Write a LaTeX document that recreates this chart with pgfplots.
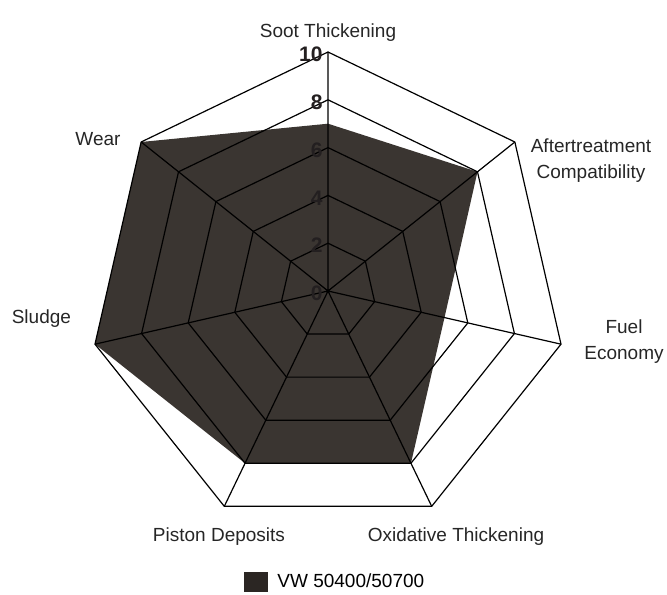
\documentclass[border=0pt]{standalone}
\usepackage{fontspec}
\setmainfont{Liberation Sans}
\usepackage{pgfplots}
\pgfplotsset{compat=1.18}
\usepgfplotslibrary{polar}

\definecolor{vwfill}{HTML}{3A3531}
\definecolor{vwleg}{HTML}{2B2623}
\definecolor{ticktext}{HTML}{231F20}

\begin{document}
\begin{tikzpicture}
\begin{polaraxis}[
  scale only axis,
  width=239pt, height=239pt,
  xmin=0, xmax=360,
  ymin=0, ymax=10,
  hide axis,
  clip=false,
  legend style={draw=none, fill=none, inner sep=0pt, anchor=west,
    at={(0.3243,-0.1088)}, font=\fontsize{9.5}{11}\selectfont},
  legend image code/.code={\fill[vwleg] (0pt,-5pt) rectangle (12pt,5pt);},
]
% scores, clockwise from the top (angle in degrees, value)
\addplot[fill=vwfill, draw=none] coordinates {
  (90,7) (38.571,8) (347.143,5) (295.714,8) (244.286,8) (192.857,10) (141.429,10) (90,7)};
\addlegendentry{\hspace{2.5pt}VW 50400/50700}

% rings
\addplot[black, line width=0.6pt] coordinates {(90,2) (38.571,2) (347.143,2) (295.714,2) (244.286,2) (192.857,2) (141.429,2) (90,2)};
\addplot[black, line width=0.6pt] coordinates {(90,4) (38.571,4) (347.143,4) (295.714,4) (244.286,4) (192.857,4) (141.429,4) (90,4)};
\addplot[black, line width=0.6pt] coordinates {(90,6) (38.571,6) (347.143,6) (295.714,6) (244.286,6) (192.857,6) (141.429,6) (90,6)};
\addplot[black, line width=0.6pt] coordinates {(90,8) (38.571,8) (347.143,8) (295.714,8) (244.286,8) (192.857,8) (141.429,8) (90,8)};
\addplot[black, line width=0.6pt] coordinates {(90,10) (38.571,10) (347.143,10) (295.714,10) (244.286,10) (192.857,10) (141.429,10) (90,10)};
% spokes
\addplot[black, line width=0.6pt] coordinates {(90,0) (90,10) (0,0) (38.571,10) (0,0) (347.143,10) (0,0) (295.714,10) (0,0) (244.286,10) (0,0) (192.857,10) (0,0) (141.429,10)};

% scale numbers along the top spoke
\addplot[draw=none, mark=none, nodes near coords, point meta=explicit symbolic,
  nodes near coords style={anchor=east, inner sep=0pt, xshift=-2.5pt, yshift=-1.2pt,
    text=ticktext, font=\fontsize{10.5}{11}\selectfont\bfseries}]
  coordinates {(90,0) [0] (90,2) [2] (90,4) [4] (90,6) [6] (90,8) [8] (90,10) [10]};

\coordinate (c) at (axis cs:0,0);
\end{polaraxis}

\begin{scope}[every node/.style={font=\fontsize{9.5}{13}\selectfont, text=black!85, align=center, inner sep=0pt}]
\node at ([shift={(0pt,129pt)}]c) {Soot Thickening};
\node at ([shift={(131.5pt,65pt)}]c) {Aftertreatment\\Compatibility};
\node at ([shift={(148pt,-25.5pt)}]c) {Fuel\\Economy};
\node at ([shift={(64pt,-123pt)}]c) {Oxidative Thickening};
\node at ([shift={(-54.5pt,-123pt)}]c) {Piston Deposits};
\node at ([shift={(-143.3pt,-14pt)}]c) {Sludge};
\node at ([shift={(-115pt,76pt)}]c) {Wear};
\end{scope}

\path ([shift={(-164pt,-149.5pt)}]c) rectangle ([shift={(169.5pt,145.5pt)}]c);
\end{tikzpicture}
\end{document}
